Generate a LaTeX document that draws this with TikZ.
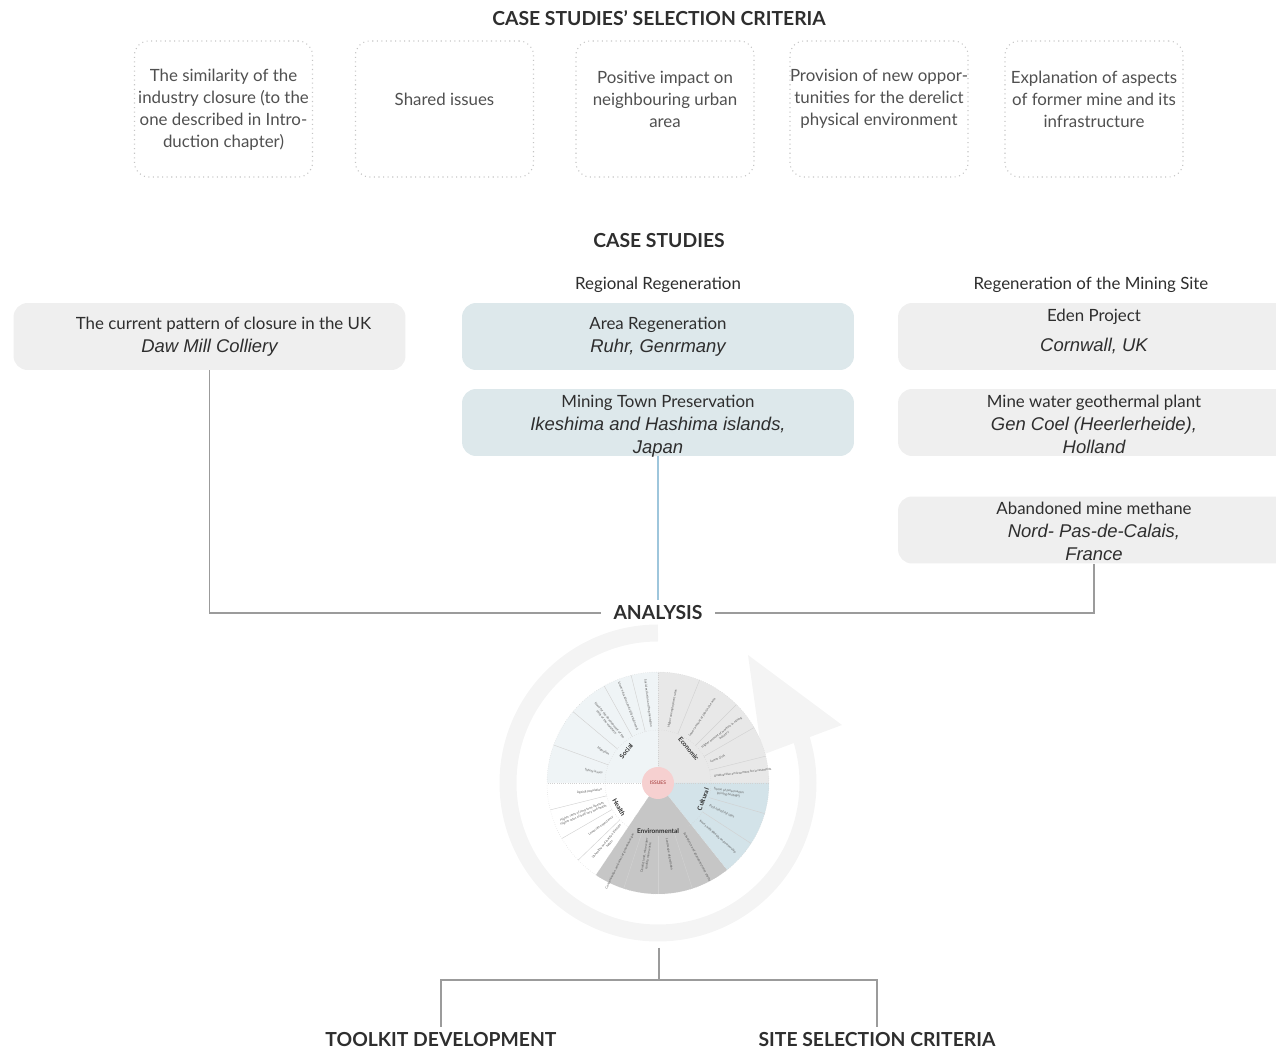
\documentclass[tikz,border=0pt]{standalone}
\usepackage{fontspec}
\setmainfont{Lato}
\newfontfamily\helv{Liberation Sans}
\definecolor{txtgrey}{HTML}{505050}
\definecolor{darktxt}{HTML}{2E2E2E}
\definecolor{boxgrey}{HTML}{EFEFEF}
\definecolor{boxblue}{HTML}{DDE8EB}
\definecolor{dotline}{HTML}{C4C4C4}
\definecolor{connline}{HTML}{9B9B9B}
\definecolor{connblue}{HTML}{9EC6DC}
\definecolor{ringgrey}{HTML}{F4F4F4}
\definecolor{ecofill}{HTML}{E8E8E8}
\definecolor{socfill}{HTML}{EFF4F6}
\definecolor{envfill}{HTML}{C6C6C6}
\definecolor{culfill}{HTML}{D3E3E9}
\definecolor{issuefill}{HTML}{F6D0D0}
\definecolor{issuetxt}{HTML}{9A2A2A}
\newcommand{\casename}[1]{{\helv\itshape\fontsize{10.5}{13}\selectfont #1}}
\tikzset{
  critbox/.style={draw=dotline, dotted, line width=0.6pt, rounded corners=8pt,
    minimum width=3.56cm, minimum height=2.72cm},
  crittext/.style={align=center, text=txtgrey, font=\fontsize{9.6}{12.5}\selectfont},
  casebox/.style={rounded corners=8pt, minimum width=7.84cm, minimum height=1.34cm,
    inner ysep=0pt, align=center, text=darktxt, font=\fontsize{9.6}{13}\selectfont},
  threeline/.style={text height=34.8pt, text depth=0pt},
  heading/.style={text=darktxt, font=\fontsize{11}{13}\selectfont\bfseries},
  subhead/.style={text=darktxt, font=\fontsize{9.6}{11}\selectfont},
  conn/.style={draw=connline, line width=0.6pt},
  segline/.style={draw=black!18, line width=0.25pt},
  catlabel/.style={text=darktxt, inner sep=0pt, font=\fontsize{3.7}{4}\selectfont\bfseries},
  issuetext/.style={text=black!65, inner sep=0pt, align=center,
    font=\fontsize{1.8}{2.2}\selectfont}
}
\begin{document}
\begin{tikzpicture}[x=0.02cm,y=-0.02cm]
\useasboundingbox (0,0) rectangle (1276,1050);

\node[heading] (selhead) at (659,18) {CASE STUDIES’ SELECTION CRITERIA};
\node[critbox] (crit1) at (223.5,109) {};
\node[critbox] (crit2) at (444.5,109) {};
\node[critbox] (crit3) at (665,109) {};
\node[critbox] (crit4) at (879,109) {};
\node[critbox] (crit5) at (1094,109) {};
\node[crittext] (crit1txt) at (223.5,110) {The similarity of the\\industry closure (to the\\one described in Intro-\\duction chapter)};
\node[crittext] (crit2txt) at (444.5,99) {Shared issues};
\node[crittext] (crit3txt) at (665,99) {Positive impact on\\neighbouring urban\\area};
\node[crittext] (crit4txt) at (879,99) {Provision of new oppor-\\tunities for the derelict\\physical environment};
\node[crittext] (crit5txt) at (1094,99) {Explanation of aspects\\of former mine and its\\infrastructure};

\node[heading] (casehead) at (659,241) {CASE STUDIES};
\node[subhead] (regional) at (658,285) {Regional Regeneration};
\node[subhead] (sitehead) at (1091,285) {Regeneration of the Mining Site};

\node[casebox, fill=boxgrey] (daw) at (209.5,336.5) {\hspace{16pt}The current pattern of closure in the UK\\\casename{Daw Mill Colliery}};
\node[casebox, fill=boxblue] (ruhr) at (658,336.5) {Area Regeneration\\\casename{Ruhr, Genrmany}};
\node[casebox, threeline, fill=boxblue] (japan) at (658,422.5) {Mining Town Preservation\\\casename{Ikeshima and Hashima islands,}\\\casename{Japan}};
\node[casebox, text depth=6.6pt, fill=boxgrey] (eden) at (1094,336.5) {Eden Project\\[4pt]\casename{Cornwall, UK}};
\node[casebox, threeline, fill=boxgrey] (holland) at (1094,422.5) {Mine water geothermal plant\\\casename{Gen Coel (Heerlerheide),}\\\casename{Holland}};
\node[casebox, threeline, fill=boxgrey] (france) at (1094,530) {Abandoned mine methane\\\casename{Nord- Pas-de-Calais,}\\\casename{France}};

\node[heading, inner xsep=7pt] (analysis) at (658,613) {ANALYSIS};
\draw[conn] (daw.south) |- (analysis.west);
\draw[conn] (france.south) |- (analysis.east);
\draw[draw=connblue, line width=0.6pt] (japan.south) -- (analysis.north);

\begin{scope}[shift={(658,783)}, y=0.02cm]
  \draw[ringgrey, line width=0.34cm] (90:150) arc[start angle=90, end angle=378, radius=150];
  \fill[ringgrey] (104,28) -- (184,58) -- (90,128) -- cycle;
  \fill[ecofill] (0,0) -- (0:111) arc[start angle=0, end angle=90, radius=111] -- cycle;
  \fill[socfill] (0,0) -- (90:111) arc[start angle=90, end angle=180, radius=111] -- cycle;
  \fill[white] (0,0) -- (180:111) arc[start angle=180, end angle=236, radius=111] -- cycle;
  \fill[envfill] (0,0) -- (236:111) arc[start angle=236, end angle=308.5, radius=111] -- cycle;
  \fill[culfill] (0,0) -- (308.5:111) arc[start angle=308.5, end angle=360, radius=111] -- cycle;
  \draw[segline, densely dotted] (0,0) circle[radius=111];
  \draw[segline, densely dotted] (0,0) circle[radius=53];
  \foreach \a in {0,90,180,236,308.5}
    \draw[segline, densely dotted] (0,0) -- (\a:111);
  \foreach \a in {14,30,45,68,104,119,140,160,194,210,224,252,270,288,327,344}
    \draw[segline] (\a:53) -- (\a:111);
  \foreach \a/\t in {7/Unattractive environment for investments, 22/Lower GVA,
      37/{Higher amount of workers in mining\\industry}, 56/Lower amount of jobs in the area,
      79/Higher unemployment rates, 279/Landscape degradation,
      298/Subsidence and abandoned mine shafts, 318/Issues with identity and ownership,
      336/Post-industrial sites, 352/{Sense of preservation\\(mining heritage)}}
    \node[issuetext, anchor=west, rotate=\a] at (\a:56) {\t};
  \foreach \a/\t in {97/Social exclusion and fragmentation,
      111/Lower education and skills attainment,
      129/{Need for the development of the\\skills of the workforce}, 150/Migration,
      170/Safety issues, 187/Ageing population,
      202/{Higher rates of long term illnesses\\Higher rates of bad/very bad health},
      217/Lower life expectancy, 230/{Unhealthy and inactive lifestyle\\habits},
      244/{Contamination, emissions of greenhouse gas},
      261/{Derelict land, mine water\\quality, mine waste}}
    \node[issuetext, anchor=east, rotate=\a-180] at (\a:56) {\t};
  \node[catlabel, rotate=-50] (economic) at (48:46) {Economic};
  \node[catlabel, rotate=50] (social) at (135:45) {Social};
  \node[catlabel, rotate=-60] (health) at (212:46) {Health};
  \node[catlabel] (environmental) at (270:48) {Environmental};
  \node[catlabel, rotate=70] (cultural) at (340:48) {Cultural};
  \fill[issuefill] (0,0) circle[radius=16];
  \node[text=issuetxt, font=\fontsize{2.8}{3}\selectfont] (issues) at (0,0) {ISSUES};
\end{scope}

\coordinate (wheelbot) at (659,948);
\coordinate (fork) at (659,980);
\node[heading] (toolkit) at (441,1040) {TOOLKIT DEVELOPMENT};
\node[heading] (sitesel) at (877,1040) {SITE SELECTION CRITERIA};
\draw[conn] (wheelbot) -- (fork);
\draw[conn] (toolkit.north) |- (fork) -| (sitesel.north);
\end{tikzpicture}
\end{document}
